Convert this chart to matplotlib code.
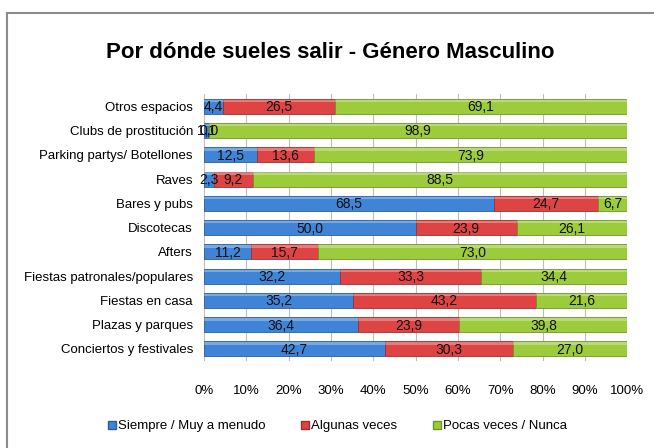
import numpy as np
import matplotlib
matplotlib.use('Agg')
from matplotlib import pyplot as plt
from matplotlib.lines import Line2D

plt.rcParams['font.family'] = ['Liberation Sans', 'DejaVu Sans']

categorias = ['Otros espacios', 'Clubs de prostitución', 'Parking partys/ Botellones',
              'Raves', 'Bares y pubs', 'Discotecas', 'Afters',
              'Fiestas patronales/populares', 'Fiestas en casa',
              'Plazas y parques', 'Conciertos y festivales']
siempre = [4.4, 1.1, 12.5, 2.3, 68.5, 50.0, 11.2, 32.2, 35.2, 36.4, 42.7]
algunas = [26.5, 0.0, 13.6, 9.2, 24.7, 23.9, 15.7, 33.3, 43.2, 23.9, 30.3]
pocas = [69.1, 98.9, 73.9, 88.5, 6.7, 26.1, 73.0, 34.4, 21.6, 39.8, 27.0]
series = ['Siempre / Muy a menudo', 'Algunas veces', 'Pocas veces / Nunca']
ticks = [0, 10, 20, 30, 40, 50, 60, 70, 80, 90, 100]

colores = ['#3F84D6', '#DE4443', '#9CCB3C']
bordes = ['#2A5E9E', '#A02E2E', '#6E9628']

fig = plt.figure(figsize=(6.54, 4.48), dpi=100)
ax = fig.add_axes([0.312, 0.194, 0.647, 0.596])

y = np.arange(len(categorias))
h = 0.62
left = np.zeros(len(categorias))
for vals, col, bc, lab in zip([siempre, algunas, pocas], colores, bordes, series):
    vals = np.array(vals)
    ax.barh(y, vals, left=left, height=h, color=col, edgecolor=bc, linewidth=0.6,
            label=lab, zorder=2)
    # brillo superior
    ax.barh(y - h / 2 + 0.09, vals, left=left, height=0.1, color='white', alpha=0.3,
            linewidth=0, zorder=3)
    for yi, l, v in zip(y, left, vals):
        ax.text(l + v / 2, yi + 0.04, ('%.1f' % v).replace('.', ','), ha='center',
                va='center', fontsize=10, color='#111111', zorder=4)
    left = left + vals

ax.set_xlim(0, 100)
ax.set_ylim(len(categorias) - 0.5, -0.5)
ax.set_xticks(ticks)
ax.set_xticklabels(['%d%%' % t for t in ticks], fontsize=9.5)
ax.set_yticks(y)
ax.set_yticklabels(categorias, fontsize=9.5)
ax.tick_params(length=0, pad=8)
ax.tick_params(axis='x', pad=17)
ax.grid(axis='x', color='#BEBEBE', linewidth=0.8, zorder=0)
for s in ax.spines.values():
    s.set_visible(False)

fig.text(0.505, 0.882, 'Por dónde sueles salir - Género Masculino', ha='center',
         va='center', fontsize=16, fontweight='bold')

handles = [Line2D([], [], marker='s', linestyle='none', markersize=6,
                  markerfacecolor=c, markeredgecolor=b) for c, b in zip(colores, bordes)]
fig.legend(handles, series, loc='center', bbox_to_anchor=(0.515, 0.049), ncol=3,
           frameon=False, fontsize=9.5, handletextpad=0.05, columnspacing=2.6,
           handlelength=0.8)

# marco del gráfico
fig.add_artist(Line2D([7 / 654, 1], [1 - 13 / 448, 1 - 13 / 448], color='#8C8C8C',
                      linewidth=1.5, transform=fig.transFigure))
fig.add_artist(Line2D([7 / 654, 7 / 654], [0, 1 - 13 / 448], color='#8C8C8C',
                      linewidth=1.5, transform=fig.transFigure))

plt.savefig('out.png')
